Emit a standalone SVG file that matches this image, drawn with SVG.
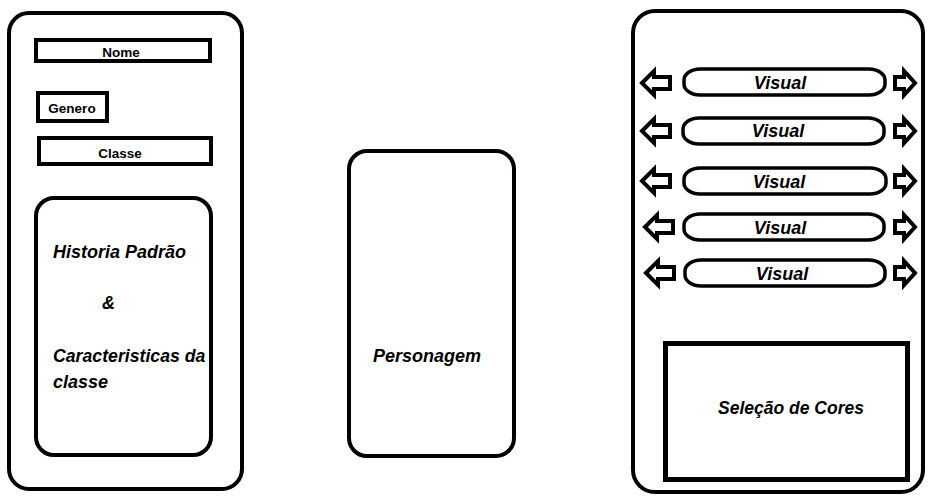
<svg xmlns="http://www.w3.org/2000/svg" width="932" height="496" viewBox="0 0 932 496">
<style>
.box{fill:#fff;stroke:#000;stroke-width:4}
.thin{fill:#fff;stroke:#000;stroke-width:3.5}
.arr{fill:#fff;stroke:#000;stroke-width:4;stroke-linejoin:miter}
.lbl{font-family:"Liberation Sans",Arial,sans-serif;font-weight:bold;font-size:13.5px;fill:#000}
.it{font-family:"Liberation Sans",Arial,sans-serif;font-weight:bold;font-style:italic;font-size:18px;fill:#000}
</style>
<rect width="932" height="496" fill="#fff"/>
<g id="painel-esquerdo">
<rect class="box" x="9" y="13" width="233" height="476" rx="20"/>
</g>
<g id="nome">
<rect class="box" x="36" y="40" width="174" height="21"/>
<text class="lbl" x="121" y="57" text-anchor="middle">Nome</text>
</g>
<g id="genero">
<rect class="box" x="38" y="93" width="69" height="28"/>
<text class="lbl" x="72" y="113" text-anchor="middle">Genero</text>
</g>
<g id="classe">
<rect class="box" x="39" y="138" width="172" height="26"/>
<text class="lbl" x="120" y="158" text-anchor="middle">Classe</text>
</g>
<g id="historia">
<rect class="box" x="36" y="198" width="175" height="257" rx="18"/>
<text class="it" x="53" y="258">Historia Padrão</text>
<text class="it" x="102" y="309">&amp;</text>
<text class="it" x="53" y="362" style="font-size:17.7px">Caracteristicas da</text>
<text class="it" x="53" y="388">classe</text>
</g>
<g id="personagem">
<rect class="box" x="349" y="151" width="165" height="305" rx="18"/>
<text class="it" x="427" y="362" text-anchor="middle">Personagem</text>
</g>
<g id="painel-direito">
<rect class="box" x="633" y="11" width="290" height="481" rx="22"/>
</g>
<g id="visual-1">
<path class="arr" d="M642,83 L654,71 L654,77 L670,77 L670,89 L654,89 L654,95 Z"/>
<rect class="thin" x="684" y="69" width="201" height="26" rx="16" ry="11"/>
<path class="arr" d="M895,77 L904,77 L904,71 L915,83 L904,95 L904,89 L895,89 Z"/>
<text class="it" x="780" y="89" text-anchor="middle">Visual</text>
</g>
<g id="visual-2">
<path class="arr" d="M642,131 L654,119 L654,125 L670,125 L670,137 L654,137 L654,143 Z"/>
<rect class="thin" x="683" y="118" width="201" height="26" rx="16" ry="11"/>
<path class="arr" d="M895,125 L904,125 L904,119 L915,131 L904,143 L904,137 L895,137 Z"/>
<text class="it" x="778" y="137" text-anchor="middle">Visual</text>
</g>
<g id="visual-3">
<path class="arr" d="M642,181 L654,169 L654,175 L670,175 L670,187 L654,187 L654,193 Z"/>
<rect class="thin" x="684" y="168" width="202" height="26" rx="16" ry="11"/>
<path class="arr" d="M895,175 L904,175 L904,169 L915,181 L904,193 L904,187 L895,187 Z"/>
<text class="it" x="779" y="188" text-anchor="middle">Visual</text>
</g>
<g id="visual-4">
<path class="arr" d="M645,227 L657,215 L657,221 L673,221 L673,233 L657,233 L657,239 Z"/>
<rect class="thin" x="684" y="214" width="200" height="26" rx="16" ry="11"/>
<path class="arr" d="M895,221 L904,221 L904,215 L915,227 L904,239 L904,233 L895,233 Z"/>
<text class="it" x="780" y="234" text-anchor="middle">Visual</text>
</g>
<g id="visual-5">
<path class="arr" d="M646,273 L658,261 L658,267 L674,267 L674,279 L658,279 L658,285 Z"/>
<rect class="thin" x="685" y="260" width="200" height="26" rx="16" ry="11"/>
<path class="arr" d="M895,267 L904,267 L904,261 L915,273 L904,285 L904,279 L895,279 Z"/>
<text class="it" x="782" y="280" text-anchor="middle">Visual</text>
</g>
<g id="selecao-cores">
<rect class="box" x="665.5" y="343.5" width="242" height="136" style="stroke-width:5"/>
<text class="it" x="791" y="414" text-anchor="middle" style="font-size:17.5px">Seleção de Cores</text>
</g>
<g id="conectores"></g>
</svg>
